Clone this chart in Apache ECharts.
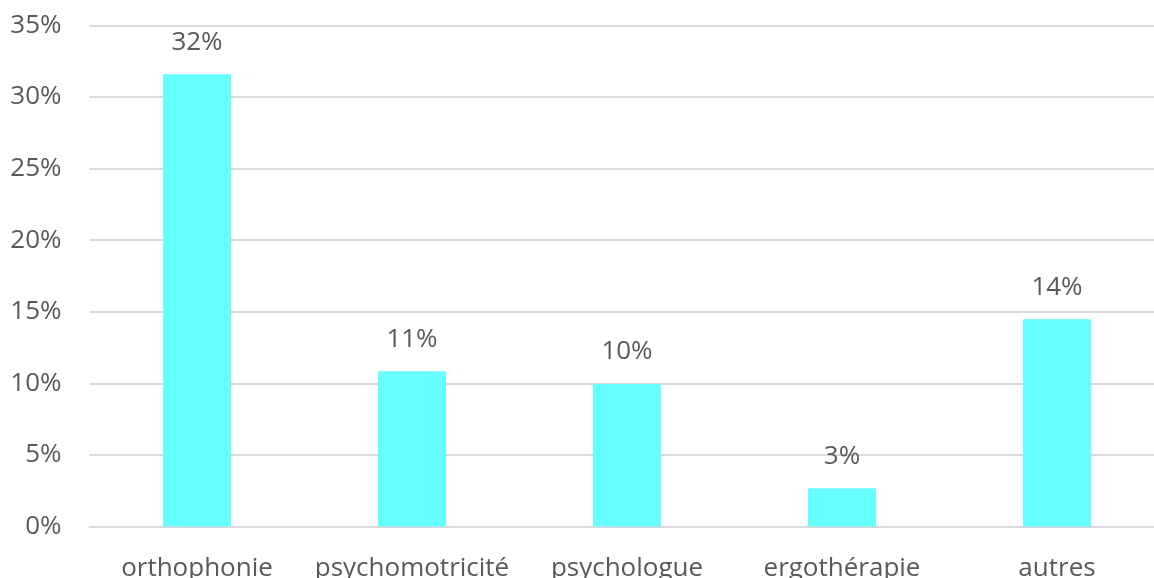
<!DOCTYPE html>
<html><head><meta charset="utf-8">
<script src="https://cdn.jsdelivr.net/npm/echarts@6/dist/echarts.min.js"></script>
<style>html,body{margin:0;padding:0;background:#fff}#c{width:1154px;height:578px}</style>
</head><body><div id="c"></div>
<script>
const categories = ['orthophonie','psychomotricité','psychologue','ergothérapie','autres'];
const values = [31.6, 10.85, 9.95, 2.67, 14.47];
const valueLabels = ['32%','11%','10%','3%','14%'];
const yTicks = [0,5,10,15,20,25,30,35];
const font = '"Open Sans", sans-serif';
const chart = echarts.init(document.getElementById('c'));
chart.setOption({
  animation:false,
  grid:{left:89.5, top:25.5, width:1075, height:501, containLabel:false, outerBoundsMode:'none'},
  xAxis:{type:'category', data:categories,
    axisLine:{show:true, lineStyle:{color:'#d9d9d9', width:2}}, axisTick:{show:false},
    splitLine:{show:false},
    axisLabel:{color:'#595959', fontSize:26, fontFamily:font, margin:29, interval:0}},
  yAxis:{type:'value', min:yTicks[0], max:yTicks[yTicks.length-1], interval:5,
    axisLine:{show:false, lineStyle:{color:'rgba(0,0,0,0)'}}, axisTick:{show:false},
    splitLine:{lineStyle:{color:'#d9d9d9', width:2}},
    axisLabel:{color:'#595959', fontSize:26, fontFamily:font, margin:28, formatter:v=>v+'%'}},
  series:[{type:'bar', data:values, barWidth:68, itemStyle:{color:'#66FFFF'},
    label:{show:true, position:'top', distance:19, color:'#595959', fontSize:26, fontFamily:font,
      formatter:p=>valueLabels[p.dataIndex]}}]
});
</script></body></html>
